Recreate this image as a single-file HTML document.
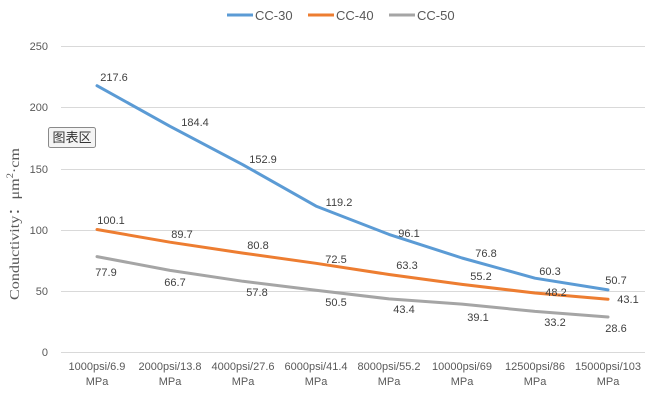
<!DOCTYPE html>
<html><head><meta charset="utf-8"><style>
body{margin:0;background:#fff;width:659px;height:409px;overflow:hidden}
svg{display:block;font-family:"Liberation Sans","Noto Sans CJK SC",sans-serif}
</style></head><body>
<svg width="659" height="409" viewBox="0 0 659 409">
<g stroke="#d9d9d9" stroke-width="1">
<line x1="61" x2="645" y1="46.5" y2="46.5"/><line x1="61" x2="645" y1="107.5" y2="107.5"/>
<line x1="61" x2="645" y1="169.5" y2="169.5"/><line x1="61" x2="645" y1="230.5" y2="230.5"/>
<line x1="61" x2="645" y1="291.5" y2="291.5"/><line x1="61" x2="645" y1="352.5" y2="352.5"/>
</g>
<g font-size="11" fill="#595959" text-anchor="end">
<text x="48" y="50">250</text><text x="48" y="111">200</text><text x="48" y="173">150</text>
<text x="48" y="234">100</text><text x="48" y="295">50</text><text x="48" y="356">0</text>
</g>
<text transform="translate(19,224) rotate(-90)" text-anchor="middle" font-family="Liberation Serif,serif" font-size="14" fill="#595959" textLength="152" lengthAdjust="spacingAndGlyphs">Conductivity：μm<tspan font-size="9" dy="-6">2</tspan><tspan dy="6">·cm</tspan></text>
<g font-size="11" fill="#595959" text-anchor="middle">
<text x="97" y="370">1000psi/6.9</text><text x="97" y="385">MPa</text>
<text x="170" y="370">2000psi/13.8</text><text x="170" y="385">MPa</text>
<text x="243" y="370">4000psi/27.6</text><text x="243" y="385">MPa</text>
<text x="316" y="370">6000psi/41.4</text><text x="316" y="385">MPa</text>
<text x="389" y="370">8000psi/55.2</text><text x="389" y="385">MPa</text>
<text x="462" y="370">10000psi/69</text><text x="462" y="385">MPa</text>
<text x="535" y="370">12500psi/86</text><text x="535" y="385">MPa</text>
<text x="608" y="370">15000psi/103</text><text x="608" y="385">MPa</text>
</g>
<g fill="none" stroke-width="3" stroke-linejoin="round" stroke-linecap="round">
<polyline stroke="#5b9bd5" points="97,85.7 170,126.3 243,164.8 316,206.1 389,234.4 462,258 535,278.2 608,289.9"/>
<polyline stroke="#ed7d31" points="97,229.5 170,242.2 243,253.1 316,263.3 389,274.5 462,284.4 535,293 608,299.2"/>
<polyline stroke="#a5a5a5" points="97,256.6 170,270.4 243,281.3 316,290.2 389,298.9 462,304.1 535,311.4 608,317"/>
</g>
<g font-size="11" fill="#404040" text-anchor="middle" dominant-baseline="middle">
<text x="114" y="78">217.6</text><text x="195" y="123">184.4</text><text x="263" y="160">152.9</text>
<text x="339" y="203">119.2</text><text x="409" y="234">96.1</text><text x="486" y="254">76.8</text>
<text x="550" y="272">60.3</text><text x="616" y="281">50.7</text>
<text x="111" y="221">100.1</text><text x="182" y="235">89.7</text><text x="258" y="246">80.8</text>
<text x="336" y="260">72.5</text><text x="407" y="266">63.3</text><text x="481" y="277">55.2</text>
<text x="556" y="293">48.2</text><text x="628" y="300">43.1</text>
<text x="106" y="273">77.9</text><text x="175" y="283">66.7</text><text x="257" y="293">57.8</text>
<text x="336" y="303">50.5</text><text x="404" y="310">43.4</text><text x="478" y="318">39.1</text>
<text x="555" y="323">33.2</text><text x="616" y="329">28.6</text>
</g>
<rect x="48.5" y="127.5" width="47" height="20" rx="2" fill="#f4f4f4" stroke="#8a8a8a"/>
<text x="72" y="142" font-size="13" fill="#333" text-anchor="middle">图表区</text>
<g stroke-width="3">
<line x1="227" x2="253" y1="15" y2="15" stroke="#5b9bd5"/>
<line x1="308" x2="334" y1="15" y2="15" stroke="#ed7d31"/>
<line x1="389" x2="415" y1="15" y2="15" stroke="#a5a5a5"/>
</g>
<g font-size="13" fill="#595959">
<text x="255" y="20">CC-30</text><text x="336" y="20">CC-40</text><text x="417" y="20">CC-50</text>
</g>
</svg>
</body></html>
